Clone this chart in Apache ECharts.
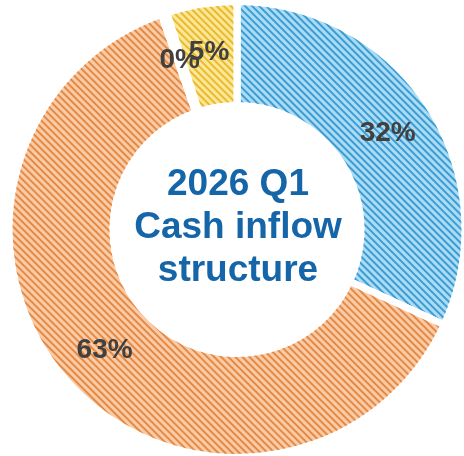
<!DOCTYPE html>
<html>
<head>
<meta charset="utf-8">
<script src="https://cdn.jsdelivr.net/npm/echarts@6/dist/echarts.min.js"></script>
<style>
  html, body { margin: 0; padding: 0; background: #fff; }
  #chart { width: 464px; height: 456px; }
</style>
</head>
<body>
<div id="chart"></div>
<script>
// data (share of inflow, %)
var categories = ['Inflow A', 'Inflow B', 'Inflow C', 'Inflow D'];
var values = [32, 63, 0.4, 5];
var baseColors = ['#acdcf4', '#f9cba6', '#dddddd', '#fce697'];
var stripeColors = ['#3b9dd4', '#e58a45', '#bbbbbb', '#e9bb2c'];
var centerTitle = ['2026 Q1', 'Cash inflow', 'structure'];

var chart = echarts.init(document.getElementById('chart'));

var pieData = categories.map(function(name, i) {
    return {
        name: name,
        value: values[i],
        itemStyle: {
            color: baseColors[i],
            decal: {
                symbol: 'rect',
                symbolSize: 1,
                dashArrayX: [1, 0],
                dashArrayY: [2, 2.5],
                rotation: Math.PI / 4,
                color: stripeColors[i]
            }
        }
    };
});

var option = {
    animation: false,
    backgroundColor: '#fff',
    series: [{
        type: 'pie',
        center: [237, 229.5],
        radius: [124, 228],
        startAngle: 90,
        clockwise: true,
        percentPrecision: 0,
        avoidLabelOverlap: false,
        minShowLabelAngle: 0,
        itemStyle: {
            borderColor: '#fff',
            borderWidth: 7
        },
        label: {
            show: true,
            position: 'inside',
            formatter: '{d}%',
            color: '#404040',
            fontSize: 28,
            fontWeight: 'bold',
            fontFamily: 'Liberation Sans, Arial, sans-serif'
        },
        labelLayout: { hideOverlap: false },
        labelLine: { show: false },
        emphasis: { disabled: true },
        data: pieData
    }],
    graphic: [{
        type: 'text',
        x: 238,
        y: 228,
        style: {
            text: centerTitle.join('\n'),
            textAlign: 'center',
            textVerticalAlign: 'middle',
            fontSize: 37,
            fontWeight: 'bold',
            fontFamily: 'Liberation Sans, Arial, sans-serif',
            lineHeight: 43,
            fill: '#1565a9'
        }
    }]
};

chart.setOption(option);
</script>
</body>
</html>
